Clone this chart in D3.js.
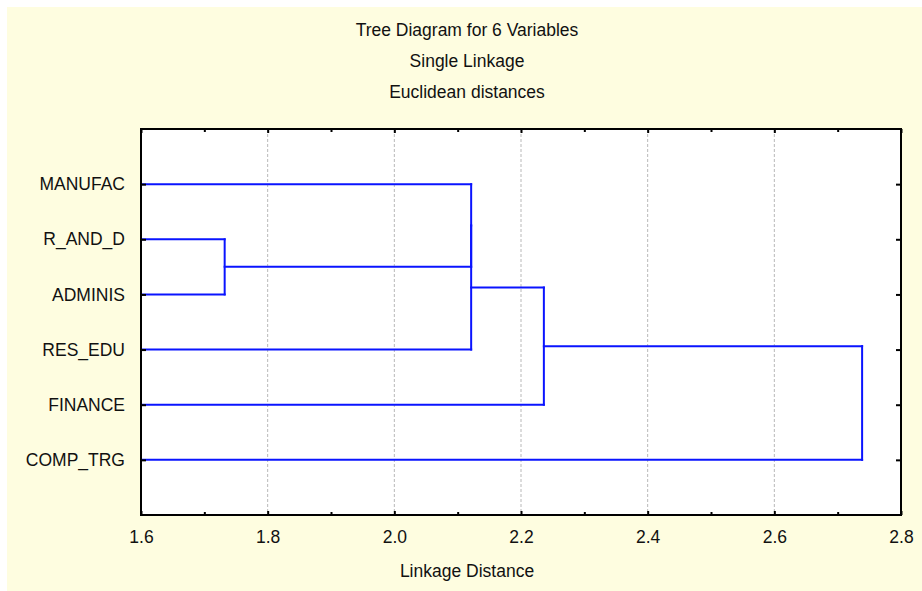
<!DOCTYPE html>
<html>
<head>
<meta charset="utf-8">
<script src="https://cdn.jsdelivr.net/npm/d3@7"></script>
<style>
  body { margin: 0; background: #fff; }
  svg { display: block; }
  text { font-family: "Liberation Sans", Arial, sans-serif; fill: #111; }
</style>
</head>
<body>
<div id="chart"></div>
<script>
const W = 922, H = 591

// leaves, top to bottom
const leaves = ['MANUFAC', 'R_AND_D', 'ADMINIS', 'RES_EDU', 'FINANCE', 'COMP_TRG']
// merge steps: [left member, right member, linkage distance]
// members are leaf names or 'n0', 'n1' ... for earlier merges
const merges = [
  ['R_AND_D', 'ADMINIS', 1.7321],
  ['MANUFAC', 'n0', 2.1213],
  ['n1', 'RES_EDU', 2.1213],
  ['n2', 'FINANCE', 2.2361],
  ['n3', 'COMP_TRG', 2.7386]
]
const xTicks = [1.6, 1.8, 2.0, 2.2, 2.4, 2.6, 2.8]
const xMinor = [1.7, 1.9, 2.1, 2.3, 2.5, 2.7]
const titles = ['Tree Diagram for 6 Variables', 'Single Linkage', 'Euclidean distances']
const xTitle = 'Linkage Distance'

const m = {left: 141, right: 901, top: 129, bottom: 515}
const fs = '17.5px'

const svg = d3.select('#chart').append('svg')
    .attr('width', W)
    .attr('height', H)

svg.append('rect')
    .attr('x', 7).attr('y', 7)
    .attr('width', W - 7).attr('height', H - 7)
    .attr('fill', '#fefde0')

svg.append('rect')
    .attr('x', m.left).attr('y', m.top)
    .attr('width', m.right - m.left).attr('height', m.bottom - m.top)
    .attr('fill', '#fff')

const xScale = d3.scaleLinear()
    .domain([1.6, 2.8])
    .range([m.left, m.right])

const yScale = d3.scalePoint()
    .domain(leaves)
    .range([m.top, m.bottom])
    .padding(1)

// grid
svg.selectAll('line.grid')
    .data(xTicks.slice(1, -1))
    .enter()
    .append('line')
    .attr('class', 'grid')
    .attr('x1', d => xScale(d)).attr('x2', d => xScale(d))
    .attr('y1', m.top).attr('y2', m.bottom)
    .attr('stroke', '#b8b8b8')
    .attr('stroke-width', 1)
    .attr('stroke-dasharray', '3,2')

// build tree segments
let pos = {}
leaves.forEach(function(l){
    pos[l] = {x: xScale(1.6), y: yScale(l)}
})
let segs = []
merges.forEach(function(mg, i){
    let a = pos[mg[0]], b = pos[mg[1]]
    let x = xScale(mg[2])
    segs.push([a.x, a.y, x, a.y])
    segs.push([b.x, b.y, x, b.y])
    segs.push([x, a.y, x, b.y])
    pos['n' + i] = {x: x, y: (a.y + b.y) / 2}
})

svg.selectAll('line.tree')
    .data(segs)
    .enter()
    .append('line')
    .attr('class', 'tree')
    .attr('x1', d => d[0]).attr('y1', d => d[1])
    .attr('x2', d => d[2]).attr('y2', d => d[3])
    .attr('stroke', '#0a14ff')
    .attr('stroke-width', 2)
    .attr('stroke-linecap', 'square')

// axes
svg.append('g')
    .attr('transform', 'translate(0,' + m.bottom + ')')
    .call(d3.axisBottom(xScale).tickValues(xTicks).tickFormat(d3.format('.1f')).tickSize(-4).tickPadding(16))
    .call(g => g.select('.domain').remove())
    .call(g => g.selectAll('text').attr('font-size', fs).attr('fill', '#111').attr('font-family', '"Liberation Sans", Arial, sans-serif'))

svg.append('g')
    .attr('transform', 'translate(0,' + m.bottom + ')')
    .call(d3.axisBottom(xScale).tickValues(xMinor).tickFormat('').tickSize(-3))
    .call(g => g.select('.domain').remove())

svg.append('g')
    .attr('transform', 'translate(0,' + m.top + ')')
    .call(d3.axisTop(xScale).tickValues(xTicks).tickFormat('').tickSize(-4))
    .call(g => g.select('.domain').remove())

svg.append('g')
    .attr('transform', 'translate(0,' + m.top + ')')
    .call(d3.axisTop(xScale).tickValues(xMinor).tickFormat('').tickSize(-3))
    .call(g => g.select('.domain').remove())

svg.append('g')
    .attr('transform', 'translate(' + m.left + ',0)')
    .call(d3.axisLeft(yScale).tickSize(-5).tickPadding(16))
    .call(g => g.select('.domain').remove())
    .call(g => g.selectAll('text').attr('font-size', fs).attr('fill', '#111').attr('font-family', '"Liberation Sans", Arial, sans-serif'))

svg.append('g')
    .attr('transform', 'translate(' + m.right + ',0)')
    .call(d3.axisRight(yScale).tickSize(-5).tickFormat(''))
    .call(g => g.select('.domain').remove())

svg.selectAll('.tick line').attr('stroke', '#000').attr('stroke-width', 2)

svg.append('rect')
    .attr('x', m.left).attr('y', m.top)
    .attr('width', m.right - m.left).attr('height', m.bottom - m.top)
    .attr('fill', 'none')
    .attr('stroke', '#000')
    .attr('stroke-width', 2)

// titles
svg.selectAll('text.title')
    .data(titles)
    .enter()
    .append('text')
    .attr('class', 'title')
    .attr('x', 467)
    .attr('y', (d, i) => 36 + i * 31)
    .attr('text-anchor', 'middle')
    .attr('font-size', fs)
    .text(d => d)

svg.append('text')
    .attr('x', 467)
    .attr('y', 577)
    .attr('text-anchor', 'middle')
    .attr('font-size', fs)
    .text(xTitle)
</script>
</body>
</html>
